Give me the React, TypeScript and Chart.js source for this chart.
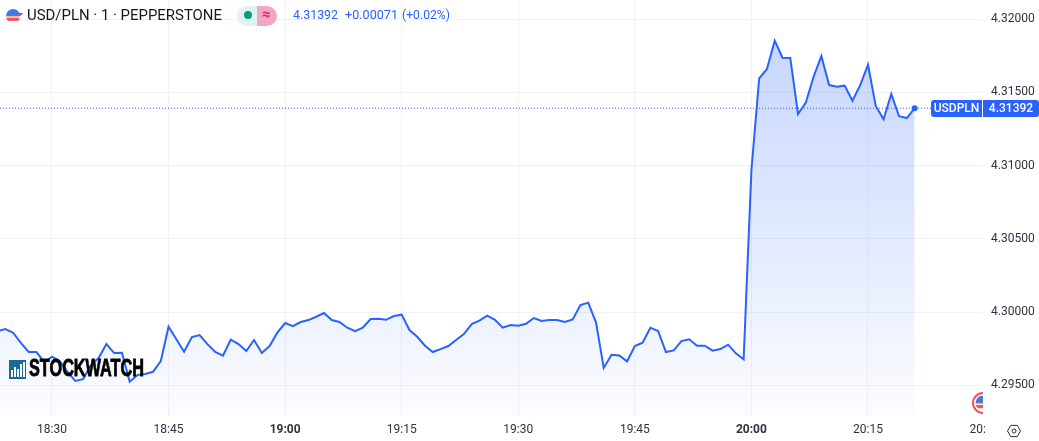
import React, { useEffect, useRef } from "react";
import { Chart, registerables } from "chart.js";

Chart.register(...registerables);

const symbolTitle = "USD/PLN · 1 · PEPPERSTONE";
const symbolShort = "USDPLN";
const changeText = "+0.00071";
const changePct = "(+0.02%)";
const watermark = "STOCKWATCH";
const firstMinute = 18 * 60 + 23;
const clippedTickMinute = 20 * 60 + 30;
const xMin = 1103.31;
const xMax = 1229.8;
const yMin = 4.2929;
const yMax = 4.32131;

const prices = [
  4.2987, 4.29884, 4.29859, 4.2979, 4.29727, 4.29727, 4.29659, 4.29695, 4.29665, 4.29592,
  4.29529, 4.29542, 4.29638, 4.29686, 4.29781, 4.2972, 4.29722, 4.29524, 4.2957, 4.29577,
  4.29592, 4.29665, 4.299, 4.29814, 4.29729, 4.29829, 4.29843, 4.29781, 4.29727, 4.29702,
  4.29811, 4.29781, 4.29734, 4.29809, 4.2972, 4.29768, 4.29859, 4.29925, 4.29904, 4.29932,
  4.29945, 4.29968, 4.29993, 4.29945, 4.29932, 4.29893, 4.2987, 4.29893, 4.29952, 4.29954,
  4.29947, 4.29973, 4.29982, 4.29877, 4.29831, 4.2977, 4.29727, 4.29747, 4.29768, 4.29809,
  4.2985, 4.29918, 4.29941, 4.29975, 4.29947, 4.29893, 4.29911, 4.29906, 4.2992, 4.29959,
  4.29939, 4.29945, 4.29945, 4.29932, 4.2995, 4.30048, 4.30064, 4.2993, 4.29618, 4.29708,
  4.29704, 4.29663, 4.29768, 4.2979, 4.29893, 4.2987, 4.29727, 4.29738, 4.29802, 4.29814,
  4.2977, 4.2977, 4.29736, 4.29747, 4.29777, 4.29718, 4.29677, 4.3097, 4.31596, 4.3166,
  4.31853, 4.31737, 4.31735, 4.31352, 4.3143, 4.31607, 4.31748, 4.3155, 4.31539, 4.31546,
  4.31443, 4.3155, 4.31689, 4.31407, 4.31316, 4.31489, 4.31337, 4.31325, 4.31392,
];

const BLUE = "#2962ff";
const TEXT = "#2f3340";
const GRID = "#f1f2f6";
const FONT = "Roboto, 'Open Sans', sans-serif";

const fmtTime = (m: number) => {
  const h = Math.floor(m / 60);
  const mm = Math.round(m - h * 60);
  return `${h}:${String(mm).padStart(2, "0")}`;
};

function roundRect(ctx: CanvasRenderingContext2D, x: number, y: number, w: number, h: number, r: number[]) {
  ctx.beginPath();
  ctx.roundRect(x, y, w, h, r);
  ctx.fill();
}

function drawFlag(ctx: CanvasRenderingContext2D, cx: number, cy: number, r: number) {
  ctx.save();
  ctx.beginPath();
  ctx.arc(cx, cy, r, 0, Math.PI * 2);
  ctx.fillStyle = "#fff";
  ctx.fill();
  ctx.clip();
  ctx.fillStyle = "#f2545b";
  ctx.fillRect(cx - r, cy + r * 0.25, r * 2, r * 0.45);
  ctx.fillRect(cx - r, cy - r * 0.15, r * 2, r * 0.22);
  ctx.fillStyle = "#3d7be0";
  ctx.fillRect(cx - r, cy - r, r * 2, r * 0.95);
  ctx.restore();
}

const zeroPadding = (s: any) => {
  s.paddingTop = 0;
  s.paddingBottom = 0;
  s.paddingLeft = 0;
  s.paddingRight = 0;
};

const overlay = {
  id: "overlay",
  afterDraw(chart: any) {
    const { ctx, chartArea, scales } = chart;
    const last = prices[prices.length - 1];
    const yLast = Math.round(scales.y.getPixelForValue(last));
    ctx.save();

    // clipped 20:30 time label
    ctx.save();
    ctx.beginPath();
    ctx.rect(0, chartArea.bottom, chartArea.right + 2, 25);
    ctx.clip();
    ctx.font = `12px ${FONT}`;
    ctx.fillStyle = TEXT;
    ctx.textAlign = "center";
    ctx.textBaseline = "middle";
    ctx.fillText(fmtTime(clippedTickMinute), scales.x.getPixelForValue(clippedTickMinute), 430);
    ctx.restore();

    // header
    ctx.textBaseline = "middle";
    ctx.textAlign = "left";
    drawFlag(ctx, 13, 16, 7);
    ctx.fillStyle = "#f23645";
    ctx.beginPath();
    ctx.moveTo(18, 13);
    ctx.lineTo(23, 13);
    ctx.lineTo(20.5, 16);
    ctx.fill();
    ctx.fillStyle = "#131722";
    ctx.font = `15px ${FONT}`;
    ctx.fillText(symbolTitle, 27, 16, 195);

    ctx.fillStyle = "#e0f2ef";
    roundRect(ctx, 237, 6, 20, 20, [10, 0, 0, 10]);
    ctx.fillStyle = "#f3a6c3";
    roundRect(ctx, 257, 6, 20, 20, [0, 10, 10, 0]);
    ctx.fillStyle = "#089981";
    ctx.beginPath();
    ctx.arc(248, 15, 4, 0, Math.PI * 2);
    ctx.fill();
    ctx.fillStyle = "#e91e63";
    ctx.font = `bold 15px ${FONT}`;
    ctx.textAlign = "center";
    ctx.fillText("≈", 266, 15);
    ctx.textAlign = "left";

    ctx.fillStyle = BLUE;
    ctx.font = `13px ${FONT}`;
    ctx.fillText(last.toFixed(5), 293, 16, 45);
    ctx.fillText(changeText, 345, 16, 53);
    ctx.fillText(changePct, 402, 16, 48);

    // watermark
    ctx.fillStyle = "#1b6a92";
    ctx.fillRect(9, 360, 17, 19);
    ctx.fillStyle = "#fff";
    [[11, 7], [14, 10], [17, 8], [20, 13], [23, 15]].forEach(([x, h]) => ctx.fillRect(x, 377 - h, 2, h));
    ctx.fillStyle = "#000";
    ctx.strokeStyle = "#000";
    ctx.lineWidth = 0.8;
    ctx.font = `bold 23px 'Liberation Sans Narrow', 'Liberation Sans', sans-serif`;
    ctx.fillText(watermark, 29, 370, 115);
    ctx.strokeText(watermark, 29, 370, 115);

    // bottom right flag, clipped by the axis
    ctx.save();
    ctx.beginPath();
    ctx.rect(960, chartArea.top, chartArea.right - 960, chartArea.bottom + 10);
    ctx.clip();
    ctx.beginPath();
    ctx.arc(983, 403, 11, 0, Math.PI * 2);
    ctx.fillStyle = "#f2545b";
    ctx.fill();
    ctx.beginPath();
    ctx.arc(983, 403, 9, 0, Math.PI * 2);
    ctx.fillStyle = "#fff";
    ctx.fill();
    drawFlag(ctx, 983, 403, 7.5);
    ctx.restore();

    // last price labels
    ctx.fillStyle = BLUE;
    roundRect(ctx, 931, yLast - 8, 51, 17, [3, 0, 0, 3]);
    roundRect(ctx, 983, yLast - 8, 56, 17, [0, 3, 3, 0]);
    ctx.fillStyle = "#fff";
    ctx.font = `500 12px ${FONT}`;
    ctx.textAlign = "center";
    ctx.fillText(symbolShort, 956.5, yLast + 1);
    ctx.fillText(last.toFixed(5), 1011, yLast + 1);

    // settings icon
    ctx.strokeStyle = "#2f3340";
    ctx.lineWidth = 1;
    const cx = 1014, cy = 431;
    ctx.beginPath();
    for (let i = 0; i < 6; i++) {
      const a = Math.PI * i / 3;
      const px = cx + 6.5 * Math.cos(a), py = cy + 6.5 * Math.sin(a);
      if (i) ctx.lineTo(px, py); else ctx.moveTo(px, py);
    }
    ctx.closePath();
    ctx.stroke();
    ctx.beginPath();
    ctx.arc(cx, cy, 2, 0, Math.PI * 2);
    ctx.stroke();
    ctx.restore();
  },
};

export default function App() {
  const ref = useRef<HTMLCanvasElement>(null);
  useEffect(() => {
    document.body.style.margin = "0";
    const canvas = ref.current!;
    const points = prices.map((y, i) => ({ x: firstMinute + i, y }));
    const lastValue = prices[prices.length - 1];
    const chart = new Chart(canvas, {
      type: "line",
      data: {
        datasets: [
          {
            label: "Last price",
            data: [{ x: xMin, y: lastValue }, { x: xMax, y: lastValue }],
            borderColor: BLUE,
            borderWidth: 1,
            borderDash: [1, 2],
            pointRadius: 0,
            fill: false,
          },
          {
            label: symbolShort,
            data: points,
            borderColor: BLUE,
            borderWidth: 2,
            tension: 0,
            pointRadius: (c: any) => (c.dataIndex === prices.length - 1 ? 3 : 0),
            pointBackgroundColor: BLUE,
            pointBorderWidth: 0,
            fill: "start",
            backgroundColor: (c: any) => {
              const g = c.chart.ctx.createLinearGradient(0, 40, 0, 416);
              g.addColorStop(0, "rgba(41,98,255,0.26)");
              g.addColorStop(1, "rgba(41,98,255,0.015)");
              return g;
            },
          },
        ],
      },
      options: {
        responsive: false,
        animation: false,
        layout: { padding: 0, autoPadding: false },
        plugins: { legend: { display: false }, title: { display: false }, tooltip: { enabled: false } },
        scales: {
          x: {
            type: "linear",
            min: xMin,
            max: xMax,
            border: { display: false },
            grid: { color: GRID, drawTicks: false, lineWidth: 1 },
            afterFit: (s: any) => { s.height = 25; zeroPadding(s); },
            ticks: {
              stepSize: 15,
              includeBounds: false,
              autoSkip: false,
              maxRotation: 0,
              padding: 7,
              color: TEXT,
              font: (c: any) => ({
                family: FONT,
                size: 12,
                weight: c.tick && c.tick.value % 60 === 0 ? "bold" : "normal",
              }),
              callback: (v: any) => fmtTime(Number(v)),
            },
          },
          y: {
            type: "linear",
            position: "right",
            min: yMin,
            max: yMax,
            border: { display: false },
            grid: { color: GRID, drawTicks: false, lineWidth: 1 },
            afterFit: (s: any) => { s.width = 56; zeroPadding(s); },
            ticks: {
              stepSize: 0.005,
              includeBounds: false,
              padding: 8,
              color: TEXT,
              font: { family: FONT, size: 12 },
              callback: (v: any) => Number(v).toFixed(5),
            },
          },
        },
      },
      plugins: [overlay],
    } as any);
    return () => chart.destroy();
  }, []);
  return <canvas ref={ref} width={1039} height={441} style={{ display: "block" }} />;
}
